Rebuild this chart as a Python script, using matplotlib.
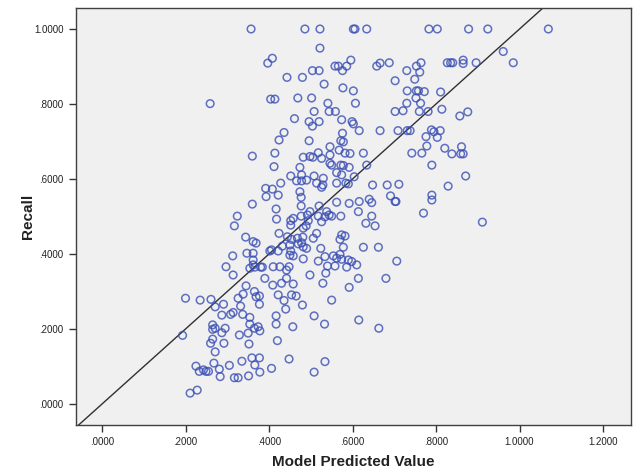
import matplotlib
matplotlib.use('Agg')
import matplotlib.pyplot as plt
from matplotlib.ticker import FuncFormatter
import numpy as np

# valores (valor predicho por el modelo vs recall)
predicted = [
    0.357, 0.408, 0.397, 0.443, 0.480, 0.259, 0.404, 0.414, 0.469, 0.461, 0.436, 0.424, 0.414, 0.360,
    0.486, 0.522, 0.602, 0.606, 0.634, 0.783, 0.803, 0.522, 0.596, 0.558, 0.566, 0.586, 0.576, 0.504,
    0.520, 0.532, 0.577, 0.602, 0.502, 0.541, 0.607, 0.508, 0.544, 0.559, 0.574, 0.599, 0.602, 0.496,
    0.504, 0.520, 0.616, 0.576, 0.572, 0.578, 0.496, 0.546, 0.568, 0.518, 0.626, 0.594, 0.658, 0.666,
    0.688, 0.730, 0.753, 0.764, 0.761, 0.749, 0.702, 0.731, 0.753, 0.758, 0.772, 0.752, 0.730, 0.763,
    0.702, 0.721, 0.760, 0.781, 0.666, 0.709, 0.731, 0.738, 0.789, 0.795, 0.776, 0.778, 0.742, 0.766,
    0.878, 0.924, 1.069, 0.961, 0.827, 0.835, 0.840, 0.865, 0.865, 0.896, 0.985, 0.811, 0.814, 0.876,
    0.857, 0.810, 0.803, 0.821, 0.861,
    0.838, 0.859, 0.865, 0.790, 0.871, 0.829, 0.790, 0.790, 0.911,
    0.482, 0.412, 0.474, 0.452, 0.478, 0.466, 0.478, 0.428, 0.392, 0.408, 0.422, 0.393, 0.474, 0.477,
    0.360, 0.477, 0.417, 0.324, 0.317, 0.418, 0.452, 0.458, 0.452, 0.477, 0.424, 0.444, 0.344, 0.362,
    0.369, 0.454, 0.468, 0.481, 0.432, 0.450, 0.470, 0.402, 0.406, 0.422, 0.452, 0.450, 0.458, 0.347,
    0.362, 0.313, 0.362, 0.482, 0.297, 0.354, 0.362, 0.366, 0.380, 0.384, 0.410, 0.426, 0.448, 0.442,
    0.314, 0.390, 0.442,
    0.345, 0.365, 0.377, 0.369, 0.338, 0.326, 0.200, 0.235, 0.261, 0.271, 0.291, 0.332, 0.377, 0.409,
    0.430, 0.458, 0.422, 0.454, 0.465, 0.436, 0.440, 0.480, 0.287, 0.308, 0.314, 0.337, 0.354, 0.417,
    0.265, 0.271, 0.265, 0.295, 0.287, 0.354, 0.365, 0.374, 0.378, 0.417, 0.457, 0.350, 0.329, 0.193,
    0.265, 0.260, 0.292, 0.352, 0.420, 0.271, 0.359, 0.377, 0.335, 0.448, 0.268, 0.366, 0.225, 0.305,
    0.281, 0.233, 0.243, 0.249, 0.255, 0.406, 0.378, 0.283, 0.317, 0.326, 0.351, 0.228, 0.211,
    0.498, 0.505, 0.526, 0.546, 0.582, 0.550, 0.546, 0.572, 0.578, 0.592, 0.562, 0.574, 0.634, 0.508,
    0.490, 0.530, 0.514, 0.529, 0.526, 0.562, 0.584, 0.590, 0.604, 0.520, 0.562, 0.592, 0.616, 0.640,
    0.646, 0.648, 0.683, 0.711, 0.691, 0.702, 0.704, 0.770, 0.614, 0.646, 0.632, 0.654, 0.498, 0.492,
    0.494, 0.518, 0.526, 0.538, 0.544, 0.550, 0.534, 0.572, 0.482, 0.489, 0.514, 0.506, 0.574, 0.582,
    0.570, 0.478, 0.490, 0.482, 0.578, 0.524, 0.626, 0.662, 0.534, 0.554, 0.562, 0.570, 0.574, 0.590,
    0.598, 0.610, 0.518, 0.540, 0.558, 0.586, 0.706, 0.498, 0.536, 0.614, 0.680, 0.529,
    0.592, 0.550, 0.508, 0.533, 0.615, 0.663, 0.534, 0.508,
]
recall = [
    1.000, 0.922, 0.909, 0.871, 0.871, 0.801, 0.813, 0.813, 0.816, 0.761, 0.724, 0.704, 0.669, 0.661,
    1.000, 1.000, 1.000, 1.000, 1.000, 1.000, 1.000, 0.949, 0.917, 0.901, 0.901, 0.901, 0.889, 0.889,
    0.889, 0.853, 0.843, 0.835, 0.816, 0.802, 0.802, 0.780, 0.780, 0.780, 0.758, 0.753, 0.747, 0.753,
    0.741, 0.753, 0.729, 0.722, 0.702, 0.699, 0.702, 0.686, 0.677, 0.670, 0.669, 0.668, 0.901, 0.909,
    0.910, 0.889, 0.901, 0.910, 0.885, 0.866, 0.862, 0.835, 0.835, 0.835, 0.833, 0.816, 0.802, 0.802,
    0.780, 0.782, 0.780, 0.780, 0.729, 0.729, 0.729, 0.729, 0.731, 0.726, 0.713, 0.688, 0.669, 0.669,
    1.000, 1.000, 1.000, 0.940, 0.910, 0.910, 0.910, 0.917, 0.908, 0.910, 0.910, 0.832, 0.786, 0.779,
    0.768, 0.729, 0.711, 0.682, 0.686,
    0.667, 0.667, 0.667, 0.637, 0.608, 0.581, 0.557, 0.544, 0.485,
    0.658, 0.633, 0.631, 0.608, 0.611, 0.595, 0.595, 0.589, 0.575, 0.573, 0.557, 0.553, 0.566, 0.551,
    0.533, 0.528, 0.520, 0.501, 0.475, 0.493, 0.489, 0.495, 0.477, 0.501, 0.455, 0.446, 0.445, 0.433,
    0.429, 0.439, 0.442, 0.445, 0.421, 0.424, 0.427, 0.408, 0.411, 0.408, 0.408, 0.397, 0.395, 0.402,
    0.402, 0.395, 0.384, 0.387, 0.366, 0.362, 0.371, 0.365, 0.365, 0.365, 0.366, 0.366, 0.366, 0.357,
    0.344, 0.335, 0.335,
    0.315, 0.300, 0.288, 0.286, 0.293, 0.282, 0.282, 0.277, 0.279, 0.259, 0.266, 0.261, 0.266, 0.317,
    0.322, 0.320, 0.291, 0.291, 0.288, 0.276, 0.253, 0.264, 0.237, 0.239, 0.244, 0.239, 0.231, 0.235,
    0.211, 0.202, 0.199, 0.202, 0.190, 0.213, 0.202, 0.206, 0.195, 0.213, 0.206, 0.189, 0.184, 0.183,
    0.173, 0.162, 0.162, 0.160, 0.169, 0.139, 0.123, 0.123, 0.114, 0.120, 0.109, 0.104, 0.101, 0.103,
    0.093, 0.087, 0.091, 0.087, 0.087, 0.095, 0.085, 0.073, 0.070, 0.070, 0.075, 0.037, 0.029,
    0.660, 0.658, 0.655, 0.664, 0.669, 0.637, 0.642, 0.637, 0.636, 0.631, 0.617, 0.611, 0.637, 0.608,
    0.597, 0.602, 0.589, 0.584, 0.578, 0.589, 0.589, 0.587, 0.606, 0.528, 0.538, 0.535, 0.540, 0.546,
    0.537, 0.584, 0.584, 0.586, 0.555, 0.540, 0.540, 0.509, 0.513, 0.501, 0.482, 0.475, 0.513, 0.504,
    0.489, 0.501, 0.486, 0.513, 0.504, 0.501, 0.499, 0.501, 0.469, 0.475, 0.455, 0.442, 0.451, 0.448,
    0.439, 0.430, 0.415, 0.419, 0.418, 0.415, 0.418, 0.418, 0.393, 0.395, 0.389, 0.399, 0.386, 0.384,
    0.380, 0.371, 0.381, 0.368, 0.368, 0.365, 0.381, 0.344, 0.349, 0.335, 0.335, 0.322,
    0.311, 0.277, 0.235, 0.213, 0.224, 0.202, 0.113, 0.085,
]

ticks = [0.0, 0.2, 0.4, 0.6, 0.8, 1.0, 1.2]
yticks = [0.0, 0.2, 0.4, 0.6, 0.8, 1.0]

def spss_fmt(v, pos):
    s = f"{v:.4f}"
    if s.startswith("0"):
        s = s[1:]
    return s

plt.rcParams['font.family'] = ['Liberation Sans', 'DejaVu Sans']

fig = plt.figure(figsize=(6.39, 4.72), dpi=100)
ax = fig.add_axes([75.5 / 639, 1 - 425 / 472, (631 - 75.5) / 639, (425 - 8) / 472])
ax.set_facecolor('#f0f0f0')

ax.scatter(predicted, recall, s=30, facecolors='none', edgecolors='#3a4fb5',
           linewidths=1.1, alpha=0.8, zorder=3)

# linea de referencia
ax.axline((0, 0), slope=1, color='#303030', lw=1.0, zorder=2)

ax.set_xlim(-0.0635, 1.267)
ax.set_ylim(-0.056, 1.056)
ax.set_xticks(ticks)
ax.set_yticks(yticks)
ax.xaxis.set_major_formatter(FuncFormatter(spss_fmt))
ax.yaxis.set_major_formatter(FuncFormatter(spss_fmt))
ax.tick_params(labelsize=7, length=5, width=1, color='#333333', labelcolor='#222222')

for sp in ax.spines.values():
    sp.set_color('#404040')
    sp.set_linewidth(1.0)

# etiquetas de los ejes en posicion absoluta
fig.text(353 / 639, 1 - 462 / 472, 'Model Predicted Value', fontsize=11,
         fontweight='bold', ha='center', va='center', color='#222222')
fig.text(28 / 639, 1 - 216 / 472, 'Recall', fontsize=11, fontweight='bold',
         rotation=90, ha='center', va='center', color='#222222')

plt.savefig('out.png', dpi=100)
plt.close()
